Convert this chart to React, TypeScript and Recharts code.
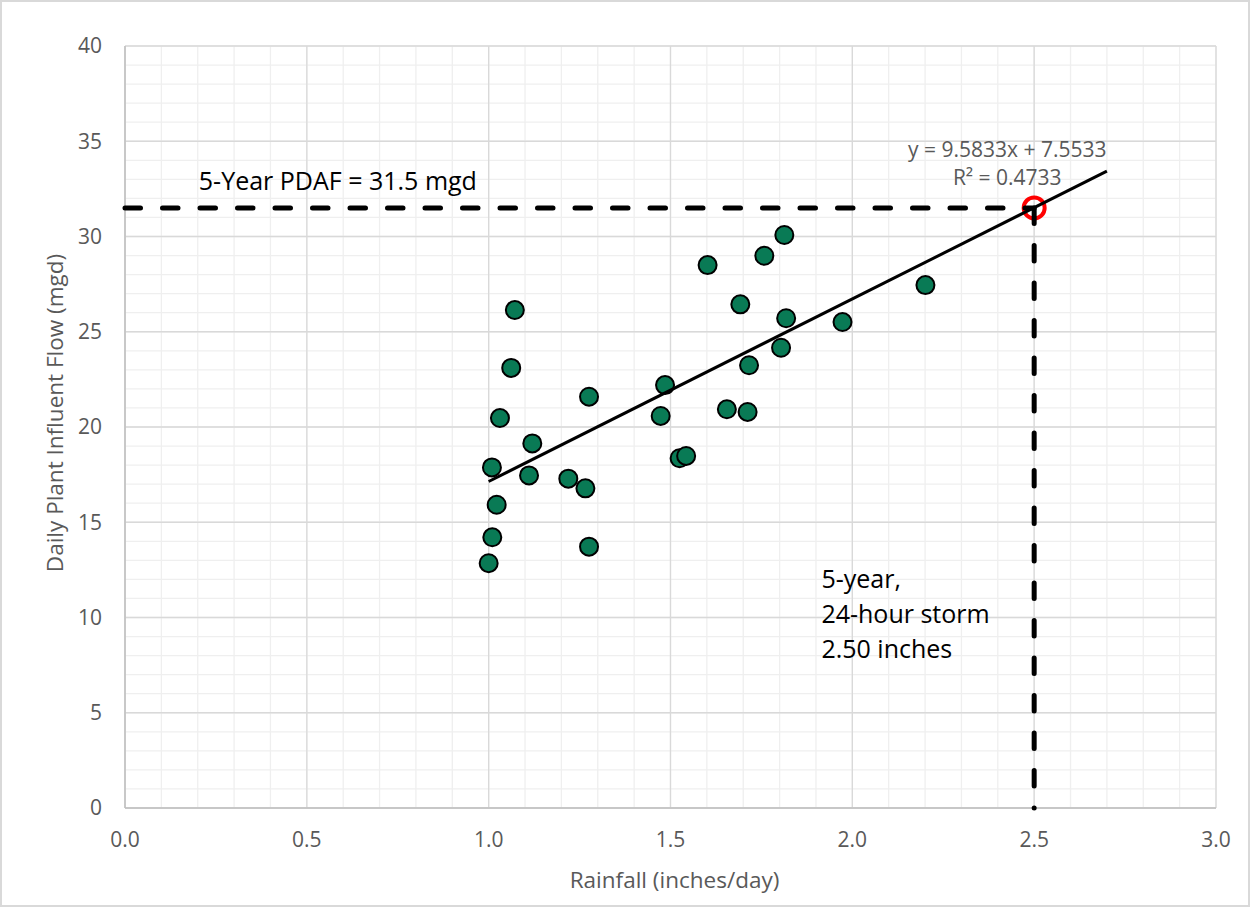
import React from 'react';
import { ScatterChart, Scatter, XAxis, YAxis, CartesianGrid, ReferenceDot } from 'recharts';

const FONT = '"Open Sans", "Noto Sans", sans-serif';

// Observed data (rainfall in inches/day, flow in mgd)
const rainfall = [
  1.0, 1.01, 1.009, 1.022, 1.031, 1.062, 1.072, 1.111, 1.12, 1.219, 1.266, 1.276, 1.276, 1.473,
  1.485, 1.525, 1.543, 1.602, 1.655, 1.692, 1.712, 1.716, 1.758, 1.804, 1.813, 1.818, 1.973, 2.201,
];
const flow = [
  12.85, 14.21, 17.88, 15.92, 20.47, 23.1, 26.14, 17.46, 19.14, 17.29, 16.78, 13.72, 21.59, 20.58,
  22.2, 18.36, 18.48, 28.5, 20.93, 26.44, 20.79, 23.24, 28.99, 24.16, 30.08, 25.71, 25.51, 27.45,
];

// Trendline endpoints (y = 9.5833x + 7.5533)
const trendX = [1.0, 2.7];
const trendY = [17.14, 33.43];

// 5-year design point
const stormRain = [2.5];
const pdafFlow = [31.5];

const xTicks = [0, 0.5, 1, 1.5, 2, 2.5, 3];
const yTicks = [0, 5, 10, 15, 20, 25, 30, 35, 40];
const xMinor = [0, 0.1, 0.2, 0.3, 0.4, 0.5, 0.6, 0.7, 0.8, 0.9, 1, 1.1, 1.2, 1.3, 1.4, 1.5, 1.6, 1.7, 1.8, 1.9, 2, 2.1, 2.2, 2.3, 2.4, 2.5, 2.6, 2.7, 2.8, 2.9, 3];
const yMinor = [0, 1, 2, 3, 4, 5, 6, 7, 8, 9, 10, 11, 12, 13, 14, 15, 16, 17, 18, 19, 20, 21, 22, 23, 24, 25, 26, 27, 28, 29, 30, 31, 32, 33, 34, 35, 36, 37, 38, 39, 40];

const points = rainfall.map((x, i) => ({ x, y: flow[i] }));
const trend = trendX.map((x, i) => ({ x, y: trendY[i] }));
const designPoint = [{ x: stormRain[0], y: pdafFlow[0] }];
const hLine = [{ x: 0, y: pdafFlow[0] }, { x: stormRain[0], y: pdafFlow[0] }];
const vLine = [{ x: stormRain[0], y: pdafFlow[0] }, { x: stormRain[0], y: 0 }];

const dashStyle = {
  stroke: '#000',
  strokeWidth: 5,
  strokeDasharray: '15.5 22',
  strokeLinecap: 'round' as const,
  fill: 'none',
};

const noShape = () => <g />;

const GreenDot = (p: any) => (
  <circle cx={p.cx} cy={p.cy} r={9} fill="#097A55" stroke="#000" strokeWidth={2} />
);
const RedRing = (p: any) => (
  <circle cx={p.cx} cy={p.cy} r={10.5} fill="none" stroke="#FF0000" strokeWidth={4} />
);

const textLabel = (lines: string[], opts: { size: number; color: string; anchor: string; lineGap?: number }) =>
  (props: any) => {
    const vb = props.viewBox || {};
    return (
      <text
        x={vb.x}
        y={vb.y}
        fontFamily={FONT}
        fontSize={opts.size}
        fill={opts.color}
        textAnchor={opts.anchor as any}
      >
        {lines.map((l, i) => (
          <tspan key={i} x={vb.x} dy={i === 0 ? 0 : opts.lineGap || 0}>
            {l}
          </tspan>
        ))}
      </text>
    );
  };

const XTitle = (props: any) => {
  const vb = props.viewBox || {};
  return (
    <text x={vb.x + vb.width / 2 + 4} y={888} fontFamily={FONT} fontSize={22.5} fill="#595959" textAnchor="middle">
      Rainfall (inches/day)
    </text>
  );
};

const YTitle = (props: any) => {
  const vb = props.viewBox || {};
  const cx = 63;
  const cy = vb.y + vb.height / 2 - 14;
  return (
    <text
      x={cx}
      y={cy}
      transform={`rotate(-90, ${cx}, ${cy})`}
      fontFamily={FONT}
      fontSize={22.5}
      fill="#595959"
      textAnchor="middle"
    >
      Daily Plant Influent Flow (mgd)
    </text>
  );
};

export default function App() {
  return (
    <div style={{ position: 'absolute', left: 0, top: 0, width: 1250, height: 907, background: '#fff' }}>
      <ScatterChart width={1250} height={907} margin={{ top: 46, right: 34, bottom: 39, left: 45 }}>
        <CartesianGrid horizontalValues={yMinor} verticalValues={xMinor} stroke="#EFEFEF" strokeWidth={1.3} />
        <CartesianGrid horizontalValues={yTicks} verticalValues={xTicks} stroke="#D9D9D9" strokeWidth={1.3} />
        <XAxis
          type="number"
          dataKey="x"
          domain={[0, 3]}
          ticks={xTicks}
          interval={0}
          tickFormatter={(v: number) => v.toFixed(1)}
          tickLine={false}
          tickMargin={18}
          axisLine={{ stroke: '#BFBFBF', strokeWidth: 1.5 }}
          tick={{ fill: '#595959', fontSize: 21, fontFamily: FONT }}
          height={60}
          label={{ content: XTitle }}
        />
        <YAxis
          type="number"
          dataKey="y"
          domain={[0, 40]}
          ticks={yTicks}
          interval={0}
          tickLine={false}
          tickMargin={17}
          axisLine={{ stroke: '#BFBFBF', strokeWidth: 1.5 }}
          tick={{ fill: '#595959', fontSize: 21, fontFamily: FONT }}
          width={80}
          label={{ content: YTitle }}
        />
        <Scatter data={designPoint} shape={RedRing} isAnimationActive={false} />
        <Scatter data={points} shape={GreenDot} isAnimationActive={false} />
        <Scatter data={hLine} line={dashStyle} shape={noShape} isAnimationActive={false} />
        <Scatter data={vLine} line={dashStyle} shape={noShape} isAnimationActive={false} />
        <Scatter
          data={trend}
          line={{ stroke: '#000', strokeWidth: 3, fill: 'none' }}
          shape={noShape}
          isAnimationActive={false}
        />
        <ReferenceDot
          x={0.203}
          y={32.44}
          r={0}
          fill="none"
          stroke="none"
          label={{ content: textLabel(['5-Year PDAF = 31.5 mgd'], { size: 25, color: '#000', anchor: 'start' }) }}
        />
        <ReferenceDot
          x={2.426}
          y={34.17}
          r={0}
          fill="none"
          stroke="none"
          label={{
            content: textLabel(['y = 9.5833x + 7.5533', 'R² = 0.4733'], {
              size: 21,
              color: '#595959',
              anchor: 'middle',
              lineGap: 28,
            }),
          }}
        />
        <ReferenceDot
          x={1.915}
          y={11.55}
          r={0}
          fill="none"
          stroke="none"
          label={{
            content: textLabel(['5-year,', '24-hour storm', '2.50 inches'], {
              size: 25,
              color: '#000',
              anchor: 'start',
              lineGap: 35,
            }),
          }}
        />
      </ScatterChart>
      <div
        style={{
          position: 'absolute',
          left: 0,
          top: 0,
          width: 1250,
          height: 907,
          boxSizing: 'border-box',
          border: '2px solid #D9D9D9',
          pointerEvents: 'none',
        }}
      />
    </div>
  );
}
